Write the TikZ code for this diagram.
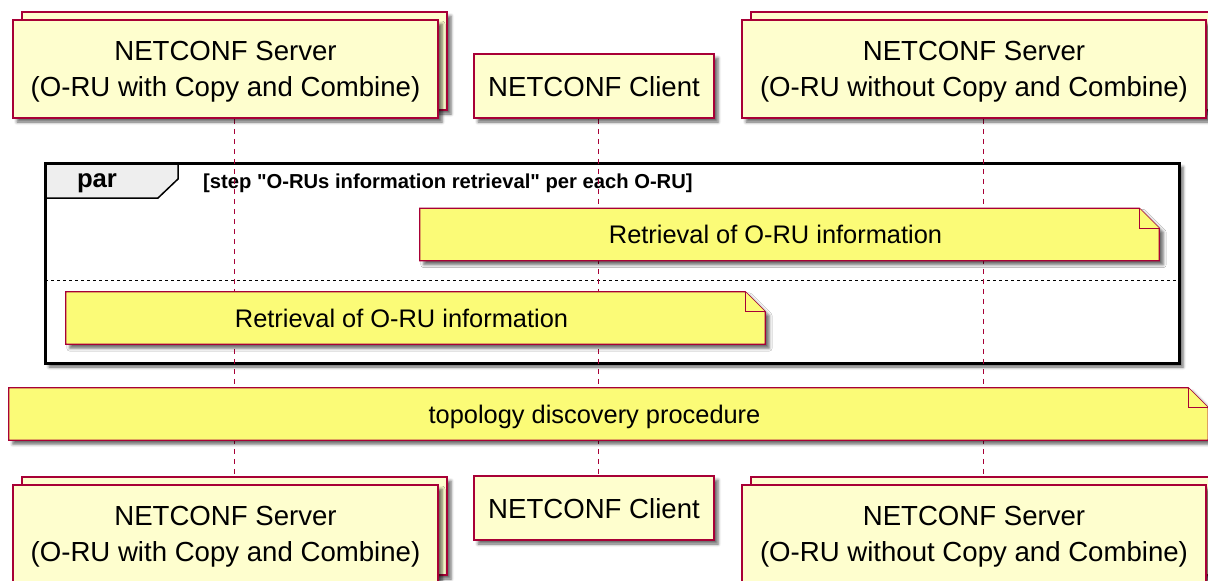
\documentclass[tikz,border=0pt]{standalone}
\usepackage{fontspec}
\setmainfont{Liberation Sans}
\newfontfamily\grpfam{Liberation Sans}
\usetikzlibrary{shadows.blur, backgrounds, calc}
\definecolor{umlRed}{HTML}{A80036}
\definecolor{partFill}{HTML}{FEFECE}
\definecolor{noteFill}{HTML}{FBFB77}
\definecolor{tabFill}{HTML}{EEEEEE}
\newcommand{\partfont}{\fontsize{27.6pt}{36pt}\selectfont}
\newcommand{\notefont}{\fontsize{25.4pt}{30pt}\selectfont}
\newcommand{\grpfont}{\grpfam\bfseries\fontsize{20.2pt}{24pt}\selectfont}
\newcommand{\parfont}{\bfseries\fontsize{25.7pt}{30pt}\selectfont}
% folded note outline round a named node
\newcommand{\notefold}[1]{%
  \draw[noteline, softshadow] (#1.north west) -- ([xshift=-20pt]#1.north east)
    -- ([yshift=-20pt]#1.north east) -- (#1.south east) -- (#1.south west) -- cycle;
  \draw[noteline] ([xshift=-20pt]#1.north east) |- ([yshift=-20pt]#1.north east);}
\tikzset{
  softshadow/.style={blur shadow={shadow xshift=4pt, shadow yshift=-4pt, shadow blur radius=3pt, shadow opacity=60}},
  partbox/.style={draw=umlRed, fill=partFill, line width=1.5pt, inner sep=0pt, align=center, font=\partfont, text depth=0pt, softshadow},
  notetext/.style={inner sep=0pt, minimum height=52pt, text depth=0pt, font=\notefont},
  noteline/.style={draw=umlRed, fill=noteFill, line width=1.3pt},
  lifeline/.style={umlRed, line width=1pt, dash pattern=on 5pt off 5pt},
}

\begin{document}
\begin{tikzpicture}[x=1pt, y=-1pt]
  \useasboundingbox (0,0) rectangle (1208,581);
  \clip (0,0) rectangle (1208,581);

  % participants, top
  \node[partbox, minimum width=425pt, minimum height=98pt] (srvAbk) at (234.5,61) {};
  \node[partbox, minimum width=425pt, minimum height=98pt] (srvA) at (225.5,69)
    {NETCONF Server\\(O-RU with Copy and Combine)};
  \node[partbox, minimum width=240pt, minimum height=64pt] (cli) at (594,86) {NETCONF Client};
  \node[partbox, minimum width=464pt, minimum height=98pt] (srvBbk) at (983,61) {};
  \node[partbox, minimum width=464pt, minimum height=98pt] (srvB) at (974,69)
    {NETCONF Server\\(O-RU without Copy and Combine)};

  % participants, bottom
  \node[partbox, minimum width=425pt, minimum height=98pt] (srvAbkB) at (234.5,526) {};
  \node[partbox, minimum width=425pt, minimum height=98pt] (srvAB) at (225.5,534)
    {NETCONF Server\\(O-RU with Copy and Combine)};
  \node[partbox, minimum width=240pt, minimum height=64pt] (cliB) at (594,508) {NETCONF Client};
  \node[partbox, minimum width=464pt, minimum height=98pt] (srvBbkB) at (983,526) {};
  \node[partbox, minimum width=464pt, minimum height=98pt] (srvBB) at (974,534)
    {NETCONF Server\\(O-RU without Copy and Combine)};

  % note texts (outlines drawn behind, below)
  \node[notetext, minimum width=739pt] (retrB) at (789.5,234.5) {Retrieval of O-RU information\hspace*{28pt}};
  \node[notetext, minimum width=699pt] (retrA) at (415.5,318) {Retrieval of O-RU information\hspace*{28pt}};
  \node[notetext, minimum width=1199pt] (topo) at (608.5,414) {topology discovery procedure\hspace*{28pt}};

  \begin{pgfonlayer}{background}
    % par group
    \fill[white, softshadow] (45,163) rectangle (1179,363);
    \draw[line width=1.5pt, fill=tabFill] (45,163) -- (178,163) -- (178,179) -- (158,198) -- (45,198) -- cycle;
    \draw[line width=3pt] (45,163) rectangle (1179,363);
    \node[font=\parfont, inner sep=0pt] (parlbl) at (97,183.5) {par};
    \node[font=\grpfont, anchor=west, inner sep=0pt] (grplbl) at (203,183)
      {[step "O-RUs information retrieval" per each O-RU]};
    \draw[line width=1pt, dash pattern=on 3pt off 3pt] (45,280) -- (1179,280);
    % lifelines
    \coordinate (llA) at (234,0);
    \coordinate (llC) at (598,0);
    \coordinate (llB) at (983,0);
    \draw[lifeline] (llA |- srvA.south) -- (llA |- srvAbkB.north);
    \draw[lifeline] (llC |- cli.south) -- (llC |- cliB.north);
    \draw[lifeline] (llB |- srvB.south) -- (llB |- srvBbkB.north);
    % note outlines
    \notefold{retrB}
    \notefold{retrA}
    \notefold{topo}
  \end{pgfonlayer}
\end{tikzpicture}
\end{document}
